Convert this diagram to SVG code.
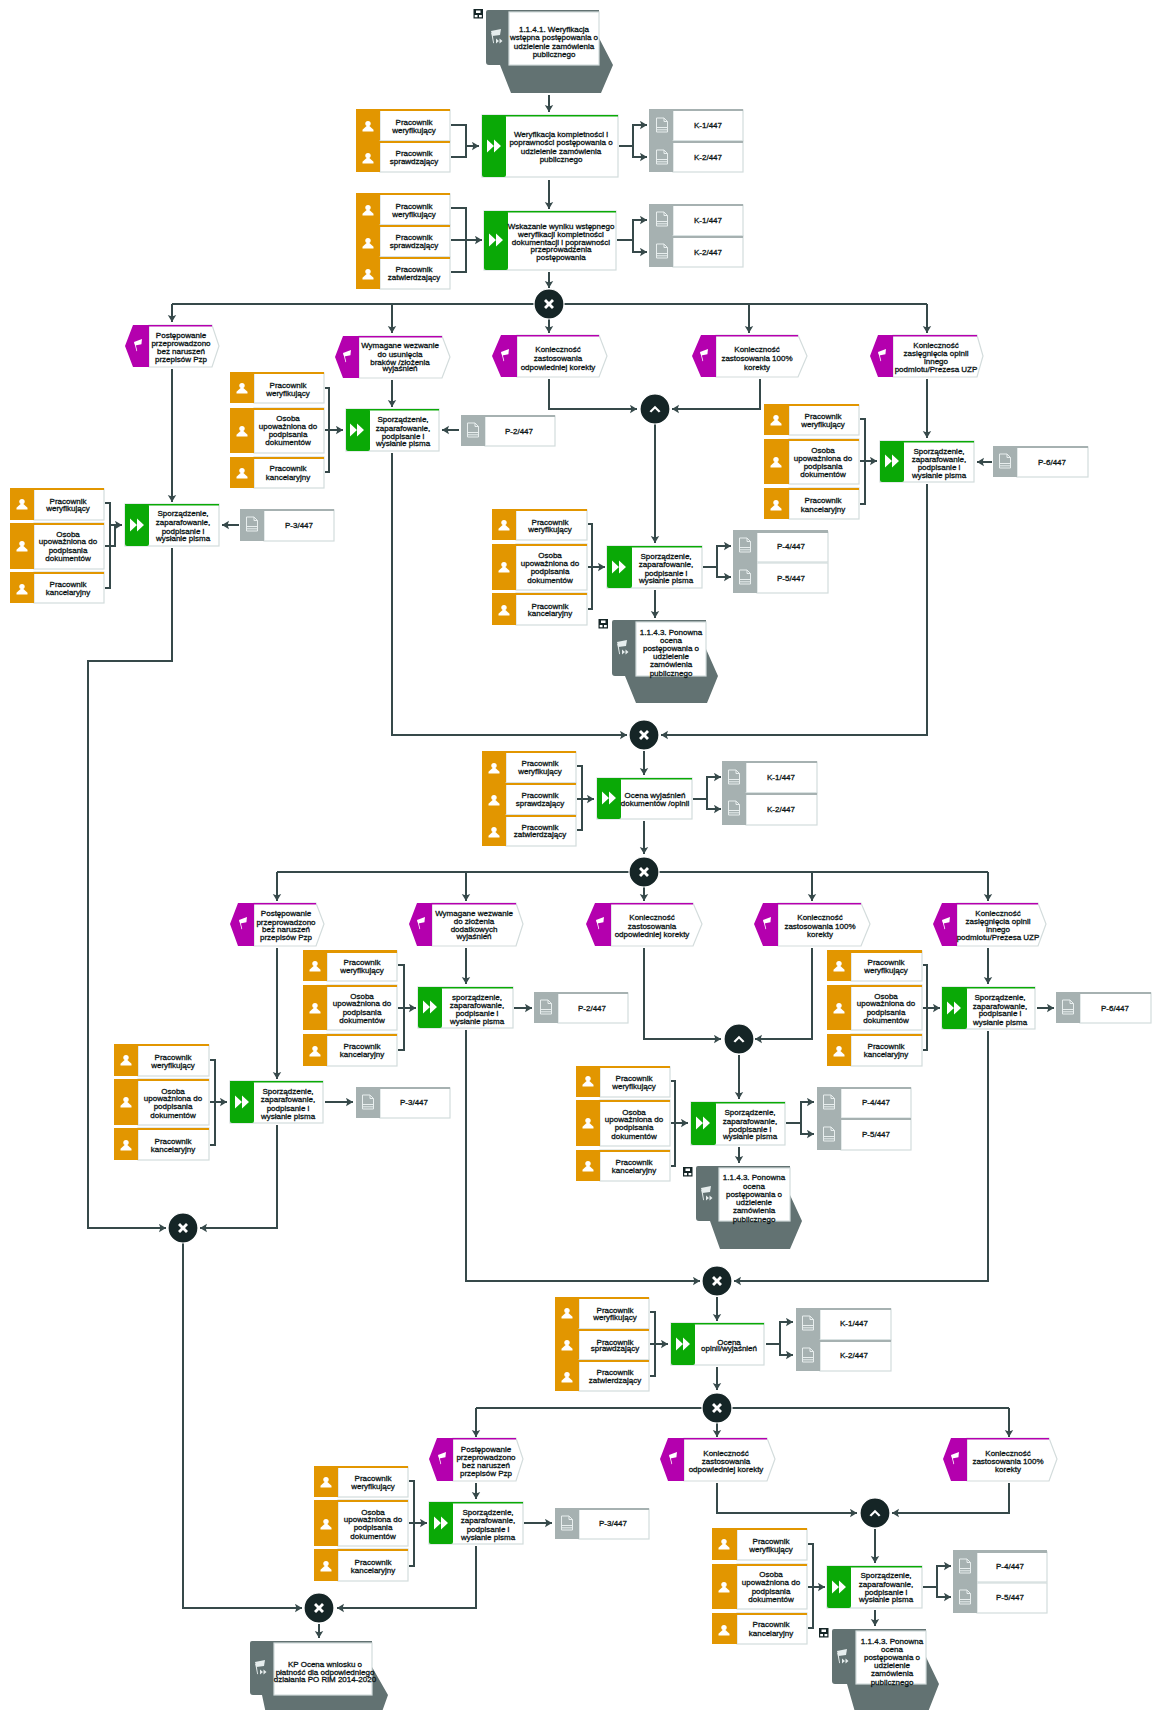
<svg xmlns="http://www.w3.org/2000/svg" width="1152" height="1710" viewBox="0 0 1152 1710">
<style>
.c{fill:none;stroke:#36494a;stroke-width:2}
.a{marker-end:url(#ah)}
.t{font-family:"Liberation Sans",Arial,sans-serif;font-size:8px;fill:#0a1414;text-anchor:middle;stroke:#0a1414;stroke-width:.3}
.w{fill:#fff;stroke:#d3dcdc;stroke-width:1.2}
.or{fill:#e29600}
.gr{fill:#0aa906}
.pu{fill:#b400ae}
.dc{fill:#a6b1b1}
.pi{fill:#627272}
.gw{fill:#152526;stroke:#fff;stroke-width:1.2}
</style>
<defs>
<marker id="ah" markerUnits="userSpaceOnUse" markerWidth="9" markerHeight="10" refX="7" refY="4.5" orient="auto"><path d="M0 .3L7 4.5L0 8.7L1.4 4.5Z" fill="#36494a"/></marker>
<g id="person"><circle cx="0" cy="-2.4" r="2.7" fill="#fff"/><path d="M-1.4 0L-5.5 3.8V5.5H5.5V3.8L1.4 0Z" fill="#fff"/></g>
<g id="doc" fill="none" stroke="#e8eeee" stroke-width="1"><path d="M-5.5-7H2L5.5-3.5V7H-5.5Z"/><path d="M2-7V-3.500H5.500M-5.5 2.5H5.500M-5.500 4.800H5.500"/></g>
<path id="ff" d="M-7-6.500L0 0L-7 6.500ZM0-6.500L7 0L0 6.500Z" fill="#fff"/>
<g id="flag" fill="#fff"><path d="M-4-3L4-6L3.400-.8L-2.800 .4Z"/><path d="M-2.800-2.500L-.8 6L-1.500 6.200L-3.700-2.500Z"/></g>
<g id="pflag" fill="#e6eded"><path d="M-6-6L4-8L3-2L-4.600-1Z"/><path d="M-4.600-4L-3 6L-3.800 6.200L-5.800-4Z"/><path d="M-1 1.500L2 4L-1 6.500ZM2.500 1.500L5.500 4L2.500 6.500Z"/></g>
<g id="mapi"><rect width="9.500" height="9.500" fill="#152526"/><path d="M2.500 1.500H7V4H2.500ZM1.200 6H4V8.200H1.200ZM5.500 6H8.300V8.200H5.500Z" fill="#fff"/></g>
<path id="xi" d="M-5-3L-3-5L0-2L3-5L5-3L2 0L5 3L3 5L0 2L-3 5L-5 3L-2 0Z" fill="#fff"/>
<path id="up" d="M-5.500 2.200L0-3.200L5.500 2.200L3.800 3.600L0-.2L-3.800 3.600Z" fill="#fff"/>
</defs>
<rect width="1152" height="1710" fill="#fff"/>
<g id="connectors">
<path class="c a" d="M549 95V112"/><path class="c" d="M451 125H466V157H451"/><path class="c a" d="M466 146H479"/><path class="c a" d="M619 146H633V125H647"/><path class="c a" d="M633 146V157H647"/>
<path class="c a" d="M549 180V209"/><path class="c" d="M451 208H466V272H451"/><path class="c a" d="M451 240H482"/><path class="c a" d="M617 240H633V220H647"/><path class="c a" d="M633 240V252H647"/><path class="c a" d="M549 272V288"/>
<path class="c" d="M172 304H927"/><path class="c a" d="M172 304V322"/><path class="c a" d="M392 304V333"/><path class="c a" d="M549 319V333"/><path class="c a" d="M749 304V333"/><path class="c a" d="M927 304V333"/>
<path class="c a" d="M172 369V502"/><path class="c a" d="M172 548V661H88V1228H166"/><path class="c" d="M105 503H110V588H105"/><path class="c" d="M105 546H115V525"/><path class="c a" d="M110 525H122"/><path class="c a" d="M239 525H222"/>
<path class="c a" d="M392 380V407"/><path class="c" d="M325 388H329V472H325"/><path class="c a" d="M325 430H343"/><path class="c a" d="M459 430H442"/><path class="c a" d="M392 453V735H627"/>
<path class="c a" d="M549 379V409H637"/><path class="c a" d="M760 379V409H672"/><path class="c a" d="M655 424V543"/><path class="c" d="M588 524H592V609H588"/><path class="c a" d="M588 567H605"/><path class="c a" d="M703 567H717V546H731"/><path class="c a" d="M717 567V577H731"/><path class="c a" d="M655 590V618"/>
<path class="c a" d="M927 379V438"/><path class="c" d="M860 419H865V504H860"/><path class="c a" d="M860 461H877"/><path class="c a" d="M992 462H977"/><path class="c a" d="M927 484V735H661"/>
<path class="c a" d="M644 751V775"/><path class="c" d="M577 766H582V830H577"/><path class="c a" d="M577 799H594"/><path class="c a" d="M693 799H707V777H721"/><path class="c a" d="M707 799V809H721"/><path class="c a" d="M644 821V854"/>
<path class="c" d="M277 872H988"/><path class="c a" d="M277 872V901"/><path class="c a" d="M466 872V901"/><path class="c a" d="M644 887V901"/><path class="c a" d="M812 872V901"/><path class="c a" d="M988 872V901"/>
<path class="c a" d="M277 948V1079"/><path class="c" d="M210 1060H215V1145H210"/><path class="c a" d="M210 1102H227"/><path class="c a" d="M325 1102H353"/><path class="c a" d="M277 1125V1228H200"/>
<path class="c a" d="M466 948V984"/><path class="c" d="M398 965H404V1050H398"/><path class="c a" d="M398 1008H416"/><path class="c a" d="M514 1008H532"/><path class="c a" d="M466 1030V1281H700"/>
<path class="c a" d="M644 948V1039H721"/><path class="c a" d="M812 948V1039H755"/><path class="c a" d="M739 1055V1099"/><path class="c" d="M671 1081H675V1166H671"/><path class="c a" d="M671 1123H688"/><path class="c a" d="M786 1123H801V1102H814"/><path class="c a" d="M801 1123V1134H814"/><path class="c a" d="M739 1147V1163"/>
<path class="c a" d="M988 948V984"/><path class="c" d="M923 965H927V1050H923"/><path class="c a" d="M923 1008H940"/><path class="c a" d="M1037 1008H1054"/><path class="c a" d="M988 1031V1281H734"/>
<path class="c a" d="M717 1297V1321"/><path class="c" d="M650 1312H655V1376H650"/><path class="c a" d="M650 1344H668"/><path class="c a" d="M766 1344H780V1322H793"/><path class="c a" d="M780 1344V1355H793"/><path class="c a" d="M717 1367V1390"/>
<path class="c" d="M476 1408H1009"/><path class="c a" d="M476 1408V1437"/><path class="c a" d="M717 1423V1437"/><path class="c a" d="M1009 1408V1437"/>
<path class="c a" d="M476 1483V1499"/><path class="c" d="M409 1481H414V1566H409"/><path class="c a" d="M409 1523H427"/><path class="c a" d="M524 1523H552"/><path class="c a" d="M476 1546V1608H337"/><path class="c a" d="M183 1243V1608H302"/><path class="c a" d="M319 1624V1638"/>
<path class="c a" d="M717 1483V1513H857"/><path class="c a" d="M1009 1483V1513H892"/><path class="c a" d="M875 1529V1563"/><path class="c" d="M808 1544H813V1628H808"/><path class="c a" d="M808 1587H825"/><path class="c a" d="M923 1587H937V1566H951"/><path class="c a" d="M937 1587V1597H951"/><path class="c a" d="M875 1610V1626"/>
</g>

<g id="pi1"><use href="#mapi" x="473.500" y="9"/><path class="pi" d="M486 12Q486 10 488 10H599V38L613 65L601 93H511L500 65H489Q486 65 486 62Z"/><use href="#pflag" x="497" y="37"/><rect class="w" x="509" y="12" width="90" height="53"/><text class="t"><tspan x="554" y="32">1.1.4.1. Weryfikacja</tspan><tspan x="554" y="40">wstępna postępowania o</tspan><tspan x="554" y="49">udzielenie zamówienia</tspan><tspan x="554" y="57">publicznego</tspan></text></g>

<g id="r1"><rect class="w" x="380" y="110" width="70" height="31"/><rect class="or" x="356" y="109" width="94" height="2"/><rect class="or" x="356" y="109" width="24" height="32"/><use href="#person" x="368" y="126"/><text class="t"><tspan x="414" y="125">Pracownik</tspan><tspan x="414" y="133">weryfikujący</tspan></text></g>
<g id="r2"><rect class="w" x="380" y="141" width="70" height="31"/><rect class="or" x="356" y="141" width="94" height="2"/><rect class="or" x="356" y="141" width="24" height="31"/><use href="#person" x="368" y="158"/><text class="t"><tspan x="414" y="156">Pracownik</tspan><tspan x="414" y="164">sprawdzający</tspan></text></g>
<g id="t1"><rect class="w" x="482" y="115" width="136" height="62"/><rect class="gr" x="482" y="115" width="136" height="1.500"/><rect class="gr" x="482" y="115" width="24" height="62" rx="2"/><use href="#ff" x="494" y="146"/><text class="t"><tspan x="561" y="137">Weryfikacja kompletności i</tspan><tspan x="561" y="145">poprawności postępowania o</tspan><tspan x="561" y="154">udzielenie zamówienia</tspan><tspan x="561" y="162">publicznego</tspan></text></g>
<g id="d1"><rect class="w" x="673" y="110" width="70" height="31"/><rect class="dc" x="649" y="109" width="94" height="2"/><rect class="dc" x="649" y="109" width="24" height="32"/><use href="#doc" x="662" y="125"/><text class="t"><tspan x="708" y="128">K-1/447</tspan></text></g>
<g id="d2"><rect class="w" x="673" y="141" width="70" height="31"/><rect class="dc" x="649" y="141" width="94" height="2"/><rect class="dc" x="649" y="141" width="24" height="31"/><use href="#doc" x="662" y="157"/><text class="t"><tspan x="708" y="160">K-2/447</tspan></text></g>

<g id="r3"><rect class="w" x="380" y="194" width="70" height="31"/><rect class="or" x="356" y="193" width="94" height="2"/><rect class="or" x="356" y="193" width="24" height="32"/><use href="#person" x="368" y="210"/><text class="t"><tspan x="414" y="209">Pracownik</tspan><tspan x="414" y="217">weryfikujący</tspan></text></g>
<g id="r4"><rect class="w" x="380" y="225" width="70" height="32"/><rect class="or" x="356" y="225" width="94" height="2"/><rect class="or" x="356" y="225" width="24" height="32"/><use href="#person" x="368" y="243"/><text class="t"><tspan x="414" y="240">Pracownik</tspan><tspan x="414" y="248">sprawdzający</tspan></text></g>
<g id="r5"><rect class="w" x="380" y="257" width="70" height="32"/><rect class="or" x="356" y="257" width="94" height="2"/><rect class="or" x="356" y="257" width="24" height="32"/><use href="#person" x="368" y="274"/><text class="t"><tspan x="414" y="272">Pracownik</tspan><tspan x="414" y="280">zatwierdzający</tspan></text></g>
<g id="t2"><rect class="w" x="484" y="211" width="132" height="59"/><rect class="gr" x="484" y="211" width="132" height="1.500"/><rect class="gr" x="484" y="211" width="24" height="59" rx="2"/><use href="#ff" x="496" y="240"/><text class="t"><tspan x="561" y="229">Wskazanie wyniku wstępnego</tspan><tspan x="561" y="237">weryfikacji kompletności</tspan><tspan x="561" y="245">dokumentacji i poprawności</tspan><tspan x="561" y="252">przeprowadzenia</tspan><tspan x="561" y="260">postępowania</tspan></text></g>
<g id="d3"><rect class="w" x="673" y="205" width="70" height="31"/><rect class="dc" x="649" y="204" width="94" height="2"/><rect class="dc" x="649" y="204" width="24" height="32"/><use href="#doc" x="662" y="219"/><text class="t"><tspan x="708" y="223">K-1/447</tspan></text></g>
<g id="d4"><rect class="w" x="673" y="236" width="70" height="31"/><rect class="dc" x="649" y="236" width="94" height="2"/><rect class="dc" x="649" y="236" width="24" height="31"/><use href="#doc" x="662" y="251"/><text class="t"><tspan x="708" y="255">K-2/447</tspan></text></g>
<g id="g1"><circle class="gw" cx="549" cy="304" r="15"/><use href="#xi" x="549" y="304"/></g>

<g id="e1"><polygon class="w" points="149,325 212,325 219,346 212,367 149,367"/><polygon class="pu" points="133,325 212,325 212,326.500 149,326.500 149,367 133,367 125,346"/><use href="#flag" x="138" y="345"/><text class="t"><tspan x="181" y="338">Postępowanie</tspan><tspan x="181" y="346">przeprowadzono</tspan><tspan x="181" y="354">bez naruszeń</tspan><tspan x="181" y="362">przepisów Pzp</tspan></text></g>
<g id="t3"><rect class="w" x="125" y="504" width="94" height="42"/><rect class="gr" x="125" y="504" width="94" height="1.500"/><rect class="gr" x="125" y="504" width="24" height="42" rx="2"/><use href="#ff" x="137" y="525"/><text class="t"><tspan x="183" y="516">Sporządzenie,</tspan><tspan x="183" y="525">zaparafowanie,</tspan><tspan x="183" y="534">podpisanie i</tspan><tspan x="183" y="541">wysłanie pisma</tspan></text></g>
<g id="d5"><rect class="w" x="264" y="510" width="70" height="31"/><rect class="dc" x="240" y="509" width="94" height="2"/><rect class="dc" x="240" y="509" width="24" height="32"/><use href="#doc" x="252" y="524"/><text class="t"><tspan x="299" y="528">P-3/447</tspan></text></g>
<g id="r6"><rect class="w" x="34" y="489" width="70" height="31"/><rect class="or" x="10" y="488" width="94" height="2"/><rect class="or" x="10" y="488" width="24" height="32"/><use href="#person" x="22" y="504"/><text class="t"><tspan x="68" y="504">Pracownik</tspan><tspan x="68" y="511">weryfikujący</tspan></text></g>
<g id="r7"><rect class="w" x="34" y="523" width="70" height="46"/><rect class="or" x="10" y="523" width="94" height="2"/><rect class="or" x="10" y="523" width="24" height="46"/><use href="#person" x="22" y="546"/><text class="t"><tspan x="68" y="537">Osoba</tspan><tspan x="68" y="544">upoważniona do</tspan><tspan x="68" y="553">podpisania</tspan><tspan x="68" y="561">dokumentów</tspan></text></g>
<g id="r8"><rect class="w" x="34" y="572" width="70" height="31"/><rect class="or" x="10" y="572" width="94" height="2"/><rect class="or" x="10" y="572" width="24" height="31"/><use href="#person" x="22" y="589"/><text class="t"><tspan x="68" y="587">Pracownik</tspan><tspan x="68" y="595">kancelaryjny</tspan></text></g>

<g id="e2"><polygon class="w" points="359,336 442,336 450,357 442,378 359,378"/><polygon class="pu" points="343,336 442,336 442,337.500 359,337.500 359,378 343,378 335,357"/><use href="#flag" x="347" y="356"/><text class="t"><tspan x="400" y="348">Wymagane wezwanie</tspan><tspan x="400" y="357">do usunięcia</tspan><tspan x="400" y="365">braków /złożenia</tspan><tspan x="400" y="371">wyjaśnień</tspan></text></g>
<g id="t4"><rect class="w" x="346" y="409" width="93" height="42"/><rect class="gr" x="346" y="409" width="93" height="1.500"/><rect class="gr" x="346" y="409" width="24" height="42" rx="2"/><use href="#ff" x="357" y="430"/><text class="t"><tspan x="403" y="422">Sporządzenie,</tspan><tspan x="403" y="431">zaparafowanie,</tspan><tspan x="403" y="439">podpisanie i</tspan><tspan x="403" y="446">wysłanie pisma</tspan></text></g>
<g id="d6"><rect class="w" x="485" y="416" width="70" height="30"/><rect class="dc" x="461" y="415" width="94" height="2"/><rect class="dc" x="461" y="415" width="24" height="31"/><use href="#doc" x="473" y="430"/><text class="t"><tspan x="519" y="434">P-2/447</tspan></text></g>
<g id="r9"><rect class="w" x="254" y="373" width="70" height="30"/><rect class="or" x="230" y="372" width="94" height="2"/><rect class="or" x="230" y="372" width="24" height="31"/><use href="#person" x="242" y="388"/><text class="t"><tspan x="288" y="388">Pracownik</tspan><tspan x="288" y="396">weryfikujący</tspan></text></g>
<g id="r10"><rect class="w" x="254" y="408" width="70" height="45"/><rect class="or" x="230" y="408" width="94" height="2"/><rect class="or" x="230" y="408" width="24" height="45"/><use href="#person" x="242" y="431"/><text class="t"><tspan x="288" y="421">Osoba</tspan><tspan x="288" y="429">upoważniona do</tspan><tspan x="288" y="437">podpisania</tspan><tspan x="288" y="445">dokumentów</tspan></text></g>
<g id="r11"><rect class="w" x="254" y="457" width="70" height="31"/><rect class="or" x="230" y="457" width="94" height="2"/><rect class="or" x="230" y="457" width="24" height="31"/><use href="#person" x="242" y="473"/><text class="t"><tspan x="288" y="471">Pracownik</tspan><tspan x="288" y="480">kancelaryjny</tspan></text></g>

<g id="e3"><polygon class="w" points="517,335 599,335 607,356 599,377 517,377"/><polygon class="pu" points="501,335 599,335 599,336.500 517,336.500 517,377 501,377 492,356"/><use href="#flag" x="505" y="355"/><text class="t"><tspan x="558" y="352">Konieczność</tspan><tspan x="558" y="361">zastosowania</tspan><tspan x="558" y="370">odpowiedniej korekty</tspan></text></g>
<g id="e4"><polygon class="w" points="716,335 798,335 807,356 798,377 716,377"/><polygon class="pu" points="701,335 798,335 798,336.500 716,336.500 716,377 701,377 692,356"/><use href="#flag" x="704" y="355"/><text class="t"><tspan x="757" y="352">Konieczność</tspan><tspan x="757" y="361">zastosowania 100%</tspan><tspan x="757" y="370">korekty</tspan></text></g>
<g id="g2"><circle class="gw" cx="655" cy="409" r="15"/><use href="#up" x="655" y="409"/></g>
<g id="t5"><rect class="w" x="607" y="546" width="95" height="42"/><rect class="gr" x="607" y="546" width="95" height="1.500"/><rect class="gr" x="607" y="546" width="25" height="42" rx="2"/><use href="#ff" x="619" y="567"/><text class="t"><tspan x="666" y="559">Sporządzenie,</tspan><tspan x="666" y="567">zaparafowanie,</tspan><tspan x="666" y="576">podpisanie i</tspan><tspan x="666" y="583">wysłanie pisma</tspan></text></g>
<g id="r12"><rect class="w" x="516" y="510" width="71" height="30"/><rect class="or" x="492" y="509" width="95" height="2"/><rect class="or" x="492" y="509" width="24" height="31"/><use href="#person" x="504" y="525"/><text class="t"><tspan x="550" y="525">Pracownik</tspan><tspan x="550" y="532">weryfikujący</tspan></text></g>
<g id="r13"><rect class="w" x="516" y="544" width="71" height="46"/><rect class="or" x="492" y="544" width="95" height="2"/><rect class="or" x="492" y="544" width="24" height="46"/><use href="#person" x="504" y="567"/><text class="t"><tspan x="550" y="558">Osoba</tspan><tspan x="550" y="566">upoważniona do</tspan><tspan x="550" y="574">podpisania</tspan><tspan x="550" y="583">dokumentów</tspan></text></g>
<g id="r14"><rect class="w" x="516" y="593" width="71" height="32"/><rect class="or" x="492" y="593" width="95" height="2"/><rect class="or" x="492" y="593" width="24" height="32"/><use href="#person" x="504" y="610"/><text class="t"><tspan x="550" y="609">Pracownik</tspan><tspan x="550" y="616">kancelaryjny</tspan></text></g>
<g id="d7"><rect class="w" x="757" y="532" width="71" height="30"/><rect class="dc" x="733" y="530" width="95" height="3"/><rect class="dc" x="733" y="530" width="24" height="32"/><use href="#doc" x="745" y="545"/><text class="t"><tspan x="791" y="549">P-4/447</tspan></text></g>
<g id="d8"><rect class="w" x="757" y="563" width="71" height="30"/><rect class="dc" x="733" y="562" width="24" height="31"/><use href="#doc" x="745" y="577"/><text class="t"><tspan x="791" y="581">P-5/447</tspan></text></g>
<g id="pi2"><use href="#mapi" x="598.500" y="619"/><path class="pi" d="M612 622Q612 620 614 620H706V649L718 676L707 703H636L625 676H615Q612 676 612 673Z"/><use href="#pflag" x="623" y="648"/><rect class="w" x="636" y="622" width="70" height="54"/><text class="t"><tspan x="671" y="635">1.1.4.3. Ponowna</tspan><tspan x="671" y="643">ocena</tspan><tspan x="671" y="651">postępowania o</tspan><tspan x="671" y="659">udzielenie</tspan><tspan x="671" y="667">zamówienia</tspan><tspan x="671" y="676">publicznego</tspan></text></g>

<g id="e5"><polygon class="w" points="893,335 977,335 983,356 977,377 893,377"/><polygon class="pu" points="878,335 977,335 977,336.500 893,336.500 893,377 878,377 870,356"/><use href="#flag" x="882" y="355"/><text class="t"><tspan x="936" y="348">Konieczność</tspan><tspan x="936" y="356">zasięgnięcia opinii</tspan><tspan x="936" y="364">innego</tspan><tspan x="936" y="372">podmiotu/Prezesa UZP</tspan></text></g>
<g id="t6"><rect class="w" x="880" y="441" width="94" height="41"/><rect class="gr" x="880" y="441" width="94" height="1.500"/><rect class="gr" x="880" y="441" width="24" height="41" rx="2"/><use href="#ff" x="892" y="461"/><text class="t"><tspan x="939" y="454">Sporządzenie,</tspan><tspan x="939" y="462">zaparafowanie,</tspan><tspan x="939" y="470">podpisanie i</tspan><tspan x="939" y="478">wysłanie pisma</tspan></text></g>
<g id="d9"><rect class="w" x="1017" y="447" width="71" height="30"/><rect class="dc" x="993" y="446" width="95" height="2"/><rect class="dc" x="993" y="446" width="24" height="31"/><use href="#doc" x="1005" y="461"/><text class="t"><tspan x="1052" y="465">P-6/447</tspan></text></g>
<g id="r15"><rect class="w" x="789" y="405" width="70" height="30"/><rect class="or" x="764" y="404" width="95" height="2"/><rect class="or" x="764" y="404" width="25" height="31"/><use href="#person" x="776" y="420"/><text class="t"><tspan x="823" y="419">Pracownik</tspan><tspan x="823" y="427">weryfikujący</tspan></text></g>
<g id="r16"><rect class="w" x="789" y="439" width="70" height="45"/><rect class="or" x="764" y="439" width="95" height="2"/><rect class="or" x="764" y="439" width="25" height="45"/><use href="#person" x="776" y="462"/><text class="t"><tspan x="823" y="453">Osoba</tspan><tspan x="823" y="461">upoważniona do</tspan><tspan x="823" y="469">podpisania</tspan><tspan x="823" y="477">dokumentów</tspan></text></g>
<g id="r17"><rect class="w" x="789" y="488" width="70" height="31"/><rect class="or" x="764" y="488" width="95" height="2"/><rect class="or" x="764" y="488" width="25" height="31"/><use href="#person" x="776" y="505"/><text class="t"><tspan x="823" y="503">Pracownik</tspan><tspan x="823" y="512">kancelaryjny</tspan></text></g>

<g id="g3"><circle class="gw" cx="644" cy="735" r="15"/><use href="#xi" x="644" y="735"/></g>
<g id="r18"><rect class="w" x="506" y="752" width="70" height="31"/><rect class="or" x="482" y="751" width="94" height="2"/><rect class="or" x="482" y="751" width="24" height="32"/><use href="#person" x="494" y="768"/><text class="t"><tspan x="540" y="766">Pracownik</tspan><tspan x="540" y="774">weryfikujący</tspan></text></g>
<g id="r19"><rect class="w" x="506" y="783" width="70" height="32"/><rect class="or" x="482" y="783" width="94" height="2"/><rect class="or" x="482" y="783" width="24" height="32"/><use href="#person" x="494" y="800"/><text class="t"><tspan x="540" y="798">Pracownik</tspan><tspan x="540" y="806">sprawdzający</tspan></text></g>
<g id="r20"><rect class="w" x="506" y="815" width="70" height="31"/><rect class="or" x="482" y="815" width="94" height="2"/><rect class="or" x="482" y="815" width="24" height="31"/><use href="#person" x="494" y="832"/><text class="t"><tspan x="540" y="830">Pracownik</tspan><tspan x="540" y="837">zatwierdzający</tspan></text></g>
<g id="t7"><rect class="w" x="597" y="778" width="95" height="41"/><rect class="gr" x="597" y="778" width="95" height="1.500"/><rect class="gr" x="597" y="778" width="24" height="41" rx="2"/><use href="#ff" x="609" y="798"/><text class="t"><tspan x="655" y="798">Ocena wyjaśnień</tspan><tspan x="655" y="806">dokumentów /opinii</tspan></text></g>
<g id="d10"><rect class="w" x="746" y="762" width="71" height="31"/><rect class="dc" x="722" y="761" width="95" height="2"/><rect class="dc" x="722" y="761" width="24" height="32"/><use href="#doc" x="734" y="777"/><text class="t"><tspan x="781" y="780">K-1/447</tspan></text></g>
<g id="d11"><rect class="w" x="746" y="793" width="71" height="32"/><rect class="dc" x="722" y="793" width="95" height="2"/><rect class="dc" x="722" y="793" width="24" height="32"/><use href="#doc" x="734" y="808"/><text class="t"><tspan x="781" y="812">K-2/447</tspan></text></g>
<g id="g4"><circle class="gw" cx="644" cy="872" r="15"/><use href="#xi" x="644" y="872"/></g>

<g id="e6"><polygon class="w" points="254,903 316,903 324,924 316,946 254,946"/><polygon class="pu" points="238,903 316,903 316,904.500 254,904.500 254,946 238,946 230,924"/><use href="#flag" x="243" y="923"/><text class="t"><tspan x="286" y="916">Postępowanie</tspan><tspan x="286" y="925">przeprowadzono</tspan><tspan x="286" y="932">bez naruszeń</tspan><tspan x="286" y="940">przepisów Pzp</tspan></text></g>
<g id="t8"><rect class="w" x="230" y="1081" width="93" height="42"/><rect class="gr" x="230" y="1081" width="93" height="1.500"/><rect class="gr" x="230" y="1081" width="24" height="42" rx="2"/><use href="#ff" x="242" y="1102"/><text class="t"><tspan x="288" y="1094">Sporządzenie,</tspan><tspan x="288" y="1102">zaparafowanie,</tspan><tspan x="288" y="1111">podpisanie i</tspan><tspan x="288" y="1119">wysłanie pisma</tspan></text></g>
<g id="d12"><rect class="w" x="380" y="1088" width="70" height="30"/><rect class="dc" x="356" y="1087" width="94" height="2"/><rect class="dc" x="356" y="1087" width="24" height="31"/><use href="#doc" x="368" y="1102"/><text class="t"><tspan x="414" y="1105">P-3/447</tspan></text></g>
<g id="r21"><rect class="w" x="138" y="1045" width="71" height="31"/><rect class="or" x="114" y="1044" width="95" height="2"/><rect class="or" x="114" y="1044" width="24" height="32"/><use href="#person" x="126" y="1060"/><text class="t"><tspan x="173" y="1060">Pracownik</tspan><tspan x="173" y="1068">weryfikujący</tspan></text></g>
<g id="r22"><rect class="w" x="138" y="1079" width="71" height="46"/><rect class="or" x="114" y="1079" width="95" height="2"/><rect class="or" x="114" y="1079" width="24" height="46"/><use href="#person" x="126" y="1102"/><text class="t"><tspan x="173" y="1094">Osoba</tspan><tspan x="173" y="1101">upoważniona do</tspan><tspan x="173" y="1109">podpisania</tspan><tspan x="173" y="1118">dokumentów</tspan></text></g>
<g id="r23"><rect class="w" x="138" y="1128" width="71" height="32"/><rect class="or" x="114" y="1128" width="95" height="2"/><rect class="or" x="114" y="1128" width="24" height="32"/><use href="#person" x="126" y="1145"/><text class="t"><tspan x="173" y="1144">Pracownik</tspan><tspan x="173" y="1152">kancelaryjny</tspan></text></g>

<g id="e7"><polygon class="w" points="432,903 516,903 523,924 516,946 432,946"/><polygon class="pu" points="417,903 516,903 516,904.500 432,904.500 432,946 417,946 409,924"/><use href="#flag" x="421" y="923"/><text class="t"><tspan x="474" y="916">Wymagane wezwanie</tspan><tspan x="474" y="924">do złożenia</tspan><tspan x="474" y="932">dodatkowych</tspan><tspan x="474" y="939">wyjaśnień</tspan></text></g>
<g id="t9"><rect class="w" x="418" y="987" width="95" height="41"/><rect class="gr" x="418" y="987" width="95" height="1.500"/><rect class="gr" x="418" y="987" width="24" height="41" rx="2"/><use href="#ff" x="430" y="1007"/><text class="t"><tspan x="477" y="1000">sporządzenie,</tspan><tspan x="477" y="1008">zaparafowanie,</tspan><tspan x="477" y="1016">podpisanie i</tspan><tspan x="477" y="1024">wysłanie pisma</tspan></text></g>
<g id="d13"><rect class="w" x="558" y="993" width="70" height="30"/><rect class="dc" x="534" y="992" width="94" height="2"/><rect class="dc" x="534" y="992" width="24" height="31"/><use href="#doc" x="546" y="1007"/><text class="t"><tspan x="592" y="1011">P-2/447</tspan></text></g>
<g id="r24"><rect class="w" x="327" y="951" width="70" height="30"/><rect class="or" x="303" y="950" width="94" height="3"/><rect class="or" x="303" y="950" width="24" height="31"/><use href="#person" x="315" y="966"/><text class="t"><tspan x="362" y="965">Pracownik</tspan><tspan x="362" y="973">weryfikujący</tspan></text></g>
<g id="r25"><rect class="w" x="327" y="985" width="70" height="45"/><rect class="or" x="303" y="985" width="94" height="2"/><rect class="or" x="303" y="985" width="24" height="45"/><use href="#person" x="315" y="1008"/><text class="t"><tspan x="362" y="999">Osoba</tspan><tspan x="362" y="1006">upoważniona do</tspan><tspan x="362" y="1015">podpisania</tspan><tspan x="362" y="1023">dokumentów</tspan></text></g>
<g id="r26"><rect class="w" x="327" y="1034" width="70" height="32"/><rect class="or" x="303" y="1034" width="94" height="2"/><rect class="or" x="303" y="1034" width="24" height="32"/><use href="#person" x="315" y="1051"/><text class="t"><tspan x="362" y="1049">Pracownik</tspan><tspan x="362" y="1057">kancelaryjny</tspan></text></g>

<g id="e8"><polygon class="w" points="611,903 693,903 702,924 693,946 611,946"/><polygon class="pu" points="595,903 693,903 693,904.500 611,904.500 611,946 595,946 586,924"/><use href="#flag" x="600" y="923"/><text class="t"><tspan x="652" y="920">Konieczność</tspan><tspan x="652" y="929">zastosowania</tspan><tspan x="652" y="937">odpowiedniej korekty</tspan></text></g>
<g id="e9"><polygon class="w" points="778,903 861,903 870,924 861,946 778,946"/><polygon class="pu" points="763,903 861,903 861,904.500 778,904.500 778,946 763,946 754,924"/><use href="#flag" x="767" y="923"/><text class="t"><tspan x="820" y="920">Konieczność</tspan><tspan x="820" y="929">zastosowania 100%</tspan><tspan x="820" y="937">korekty</tspan></text></g>
<g id="g5"><circle class="gw" cx="739" cy="1039" r="15"/><use href="#up" x="739" y="1039"/></g>
<g id="t10"><rect class="w" x="691" y="1102" width="94" height="43"/><rect class="gr" x="691" y="1102" width="94" height="1.500"/><rect class="gr" x="691" y="1102" width="25" height="43" rx="2"/><use href="#ff" x="703" y="1123"/><text class="t"><tspan x="750" y="1115">Sporządzenie,</tspan><tspan x="750" y="1124">zaparafowanie,</tspan><tspan x="750" y="1132">podpisanie i</tspan><tspan x="750" y="1139">wysłanie pisma</tspan></text></g>
<g id="r27"><rect class="w" x="600" y="1067" width="70" height="30"/><rect class="or" x="576" y="1066" width="94" height="2"/><rect class="or" x="576" y="1066" width="24" height="31"/><use href="#person" x="588" y="1081"/><text class="t"><tspan x="634" y="1081">Pracownik</tspan><tspan x="634" y="1089">weryfikujący</tspan></text></g>
<g id="r28"><rect class="w" x="600" y="1100" width="70" height="46"/><rect class="or" x="576" y="1100" width="94" height="2"/><rect class="or" x="576" y="1100" width="24" height="46"/><use href="#person" x="588" y="1123"/><text class="t"><tspan x="634" y="1115">Osoba</tspan><tspan x="634" y="1122">upoważniona do</tspan><tspan x="634" y="1130">podpisania</tspan><tspan x="634" y="1139">dokumentów</tspan></text></g>
<g id="r29"><rect class="w" x="600" y="1150" width="70" height="31"/><rect class="or" x="576" y="1150" width="94" height="2"/><rect class="or" x="576" y="1150" width="24" height="31"/><use href="#person" x="588" y="1166"/><text class="t"><tspan x="634" y="1165">Pracownik</tspan><tspan x="634" y="1173">kancelaryjny</tspan></text></g>
<g id="d14"><rect class="w" x="841" y="1088" width="70" height="30"/><rect class="dc" x="817" y="1087" width="94" height="2"/><rect class="dc" x="817" y="1087" width="24" height="31"/><use href="#doc" x="829" y="1102"/><text class="t"><tspan x="876" y="1105">P-4/447</tspan></text></g>
<g id="d15"><rect class="w" x="841" y="1119" width="70" height="31"/><rect class="dc" x="817" y="1118" width="94" height="2"/><rect class="dc" x="817" y="1118" width="24" height="32"/><use href="#doc" x="829" y="1134"/><text class="t"><tspan x="876" y="1137">P-5/447</tspan></text></g>
<g id="pi3"><use href="#mapi" x="683" y="1167"/><path class="pi" d="M696 1168Q696 1166 698 1166H790V1195L802 1221L790 1249H720L710 1221H699Q696 1221 696 1218Z"/><use href="#pflag" x="707" y="1194"/><rect class="w" x="719" y="1168" width="71" height="53"/><text class="t"><tspan x="754" y="1180">1.1.4.3. Ponowna</tspan><tspan x="754" y="1189">ocena</tspan><tspan x="754" y="1197">postępowania o</tspan><tspan x="754" y="1205">udzielenie</tspan><tspan x="754" y="1213">zamówienia</tspan><tspan x="754" y="1222">publicznego</tspan></text></g>

<g id="e10"><polygon class="w" points="957,903 1038,903 1046,924 1038,946 957,946"/><polygon class="pu" points="942,903 1038,903 1038,904.500 957,904.500 957,946 942,946 933,924"/><use href="#flag" x="946" y="923"/><text class="t"><tspan x="998" y="916">Konieczność</tspan><tspan x="998" y="924">zasięgnięcia opinii</tspan><tspan x="998" y="932">innego</tspan><tspan x="998" y="940">podmiotu/Prezesa UZP</tspan></text></g>
<g id="t11"><rect class="w" x="942" y="987" width="93" height="42"/><rect class="gr" x="942" y="987" width="93" height="1.500"/><rect class="gr" x="942" y="987" width="25" height="42" rx="2"/><use href="#ff" x="954" y="1008"/><text class="t"><tspan x="1000" y="1000">Sporządzenie,</tspan><tspan x="1000" y="1009">zaparafowanie,</tspan><tspan x="1000" y="1016">podpisanie i</tspan><tspan x="1000" y="1025">wysłanie pisma</tspan></text></g>
<g id="d16"><rect class="w" x="1080" y="993" width="71" height="30"/><rect class="dc" x="1056" y="992" width="95" height="2"/><rect class="dc" x="1056" y="992" width="24" height="31"/><use href="#doc" x="1068" y="1007"/><text class="t"><tspan x="1115" y="1011">P-6/447</tspan></text></g>
<g id="r30"><rect class="w" x="851" y="951" width="71" height="30"/><rect class="or" x="827" y="950" width="95" height="3"/><rect class="or" x="827" y="950" width="24" height="31"/><use href="#person" x="839" y="966"/><text class="t"><tspan x="886" y="965">Pracownik</tspan><tspan x="886" y="973">weryfikujący</tspan></text></g>
<g id="r31"><rect class="w" x="851" y="985" width="71" height="45"/><rect class="or" x="827" y="985" width="95" height="2"/><rect class="or" x="827" y="985" width="24" height="45"/><use href="#person" x="839" y="1008"/><text class="t"><tspan x="886" y="999">Osoba</tspan><tspan x="886" y="1006">upoważniona do</tspan><tspan x="886" y="1015">podpisania</tspan><tspan x="886" y="1023">dokumentów</tspan></text></g>
<g id="r32"><rect class="w" x="851" y="1034" width="71" height="32"/><rect class="or" x="827" y="1034" width="95" height="2"/><rect class="or" x="827" y="1034" width="24" height="32"/><use href="#person" x="839" y="1051"/><text class="t"><tspan x="886" y="1049">Pracownik</tspan><tspan x="886" y="1057">kancelaryjny</tspan></text></g>

<g id="g6"><circle class="gw" cx="183" cy="1228" r="15"/><use href="#xi" x="183" y="1228"/></g>
<g id="g7"><circle class="gw" cx="717" cy="1281" r="15"/><use href="#xi" x="717" y="1281"/></g>
<g id="r33"><rect class="w" x="579" y="1298" width="70" height="31"/><rect class="or" x="555" y="1297" width="94" height="2"/><rect class="or" x="555" y="1297" width="24" height="32"/><use href="#person" x="567" y="1313"/><text class="t"><tspan x="615" y="1313">Pracownik</tspan><tspan x="615" y="1320">weryfikujący</tspan></text></g>
<g id="r34"><rect class="w" x="579" y="1329" width="70" height="31"/><rect class="or" x="555" y="1329" width="94" height="2"/><rect class="or" x="555" y="1329" width="24" height="31"/><use href="#person" x="567" y="1345"/><text class="t"><tspan x="615" y="1345">Pracownik</tspan><tspan x="615" y="1351">sprawdzający</tspan></text></g>
<g id="r35"><rect class="w" x="579" y="1360" width="70" height="31"/><rect class="or" x="555" y="1360" width="94" height="2"/><rect class="or" x="555" y="1360" width="24" height="31"/><use href="#person" x="567" y="1377"/><text class="t"><tspan x="615" y="1375">Pracownik</tspan><tspan x="615" y="1383">zatwierdzający</tspan></text></g>
<g id="t12"><rect class="w" x="671" y="1323" width="93" height="42"/><rect class="gr" x="671" y="1323" width="93" height="1.500"/><rect class="gr" x="671" y="1323" width="24" height="42" rx="2"/><use href="#ff" x="683" y="1344"/><text class="t"><tspan x="729" y="1345">Ocena</tspan><tspan x="729" y="1351">opinii/wyjaśnień</tspan></text></g>
<g id="d17"><rect class="w" x="820" y="1309" width="71" height="31"/><rect class="dc" x="796" y="1308" width="95" height="2"/><rect class="dc" x="796" y="1308" width="24" height="32"/><use href="#doc" x="808" y="1323"/><text class="t"><tspan x="854" y="1326">K-1/447</tspan></text></g>
<g id="d18"><rect class="w" x="820" y="1340" width="71" height="31"/><rect class="dc" x="796" y="1340" width="95" height="2"/><rect class="dc" x="796" y="1340" width="24" height="31"/><use href="#doc" x="808" y="1355"/><text class="t"><tspan x="854" y="1358">K-2/447</tspan></text></g>
<g id="g8"><circle class="gw" cx="717" cy="1408" r="15"/><use href="#xi" x="717" y="1408"/></g>

<g id="e11"><polygon class="w" points="453,1438 516,1438 523,1459 516,1481 453,1481"/><polygon class="pu" points="437,1438 516,1438 516,1439.500 453,1439.500 453,1481 437,1481 429,1459"/><use href="#flag" x="442" y="1458"/><text class="t"><tspan x="486" y="1452">Postępowanie</tspan><tspan x="486" y="1460">przeprowadzono</tspan><tspan x="486" y="1468">bez naruszeń</tspan><tspan x="486" y="1476">przepisów Pzp</tspan></text></g>
<g id="t13"><rect class="w" x="429" y="1502" width="94" height="42"/><rect class="gr" x="429" y="1502" width="94" height="1.500"/><rect class="gr" x="429" y="1502" width="24" height="42" rx="2"/><use href="#ff" x="441" y="1523"/><text class="t"><tspan x="488" y="1515">Sporządzenie,</tspan><tspan x="488" y="1523">zaparafowanie,</tspan><tspan x="488" y="1532">podpisanie i</tspan><tspan x="488" y="1540">wysłanie pisma</tspan></text></g>
<g id="d19"><rect class="w" x="579" y="1509" width="70" height="30"/><rect class="dc" x="555" y="1508" width="94" height="2"/><rect class="dc" x="555" y="1508" width="24" height="31"/><use href="#doc" x="567" y="1523"/><text class="t"><tspan x="613" y="1526">P-3/447</tspan></text></g>
<g id="r36"><rect class="w" x="338" y="1467" width="70" height="30"/><rect class="or" x="314" y="1466" width="94" height="2"/><rect class="or" x="314" y="1466" width="24" height="31"/><use href="#person" x="326" y="1482"/><text class="t"><tspan x="373" y="1481">Pracownik</tspan><tspan x="373" y="1489">weryfikujący</tspan></text></g>
<g id="r37"><rect class="w" x="338" y="1500" width="70" height="46"/><rect class="or" x="314" y="1500" width="94" height="2"/><rect class="or" x="314" y="1500" width="24" height="46"/><use href="#person" x="326" y="1524"/><text class="t"><tspan x="373" y="1515">Osoba</tspan><tspan x="373" y="1522">upoważniona do</tspan><tspan x="373" y="1530">podpisania</tspan><tspan x="373" y="1539">dokumentów</tspan></text></g>
<g id="r38"><rect class="w" x="338" y="1549" width="70" height="32"/><rect class="or" x="314" y="1549" width="94" height="2"/><rect class="or" x="314" y="1549" width="24" height="32"/><use href="#person" x="326" y="1566"/><text class="t"><tspan x="373" y="1565">Pracownik</tspan><tspan x="373" y="1573">kancelaryjny</tspan></text></g>
<g id="g9"><circle class="gw" cx="319" cy="1608" r="15"/><use href="#xi" x="319" y="1608"/></g>
<g id="pi4"><path class="pi" d="M250 1643Q250 1641 252 1641H372V1667L388 1695L378 1723H268L262 1695H253Q250 1695 250 1692Z"/><use href="#pflag" x="261" y="1668"/><rect class="w" x="274" y="1643" width="98" height="52"/><text class="t"><tspan x="325" y="1667">KP Ocena wniosku o</tspan><tspan x="325" y="1675">płatność dla odpowiedniego</tspan><tspan x="325" y="1682">działania PO RiM 2014-2020</tspan></text></g>

<g id="e12"><polygon class="w" points="684,1438 767,1438 775,1459 767,1481 684,1481"/><polygon class="pu" points="668,1438 767,1438 767,1439.500 684,1439.500 684,1481 668,1481 660,1459"/><use href="#flag" x="673" y="1458"/><text class="t"><tspan x="726" y="1456">Konieczność</tspan><tspan x="726" y="1464">zastosowania</tspan><tspan x="726" y="1472">odpowiedniej korekty</tspan></text></g>
<g id="e13"><polygon class="w" points="967,1438 1049,1438 1057,1459 1049,1481 967,1481"/><polygon class="pu" points="951,1438 1049,1438 1049,1439.500 967,1439.500 967,1481 951,1481 943,1459"/><use href="#flag" x="955" y="1458"/><text class="t"><tspan x="1008" y="1456">Konieczność</tspan><tspan x="1008" y="1464">zastosowania 100%</tspan><tspan x="1008" y="1472">korekty</tspan></text></g>
<g id="g10"><circle class="gw" cx="875" cy="1513" r="15"/><use href="#up" x="875" y="1513"/></g>
<g id="t14"><rect class="w" x="827" y="1566" width="95" height="42"/><rect class="gr" x="827" y="1566" width="95" height="1.500"/><rect class="gr" x="827" y="1566" width="24" height="42" rx="2"/><use href="#ff" x="839" y="1587"/><text class="t"><tspan x="886" y="1578">Sporządzenie,</tspan><tspan x="886" y="1587">zaparafowanie,</tspan><tspan x="886" y="1595">podpisanie i</tspan><tspan x="886" y="1602">wysłanie pisma</tspan></text></g>
<g id="r39"><rect class="w" x="737" y="1529" width="70" height="31"/><rect class="or" x="712" y="1528" width="95" height="2"/><rect class="or" x="712" y="1528" width="25" height="32"/><use href="#person" x="724" y="1544"/><text class="t"><tspan x="771" y="1544">Pracownik</tspan><tspan x="771" y="1552">weryfikujący</tspan></text></g>
<g id="r40"><rect class="w" x="737" y="1564" width="70" height="45"/><rect class="or" x="712" y="1564" width="95" height="2"/><rect class="or" x="712" y="1564" width="25" height="45"/><use href="#person" x="724" y="1587"/><text class="t"><tspan x="771" y="1577">Osoba</tspan><tspan x="771" y="1585">upoważniona do</tspan><tspan x="771" y="1594">podpisania</tspan><tspan x="771" y="1602">dokumentów</tspan></text></g>
<g id="r41"><rect class="w" x="737" y="1613" width="70" height="31"/><rect class="or" x="712" y="1613" width="95" height="2"/><rect class="or" x="712" y="1613" width="25" height="31"/><use href="#person" x="724" y="1630"/><text class="t"><tspan x="771" y="1627">Pracownik</tspan><tspan x="771" y="1636">kancelaryjny</tspan></text></g>
<g id="d20"><rect class="w" x="977" y="1552" width="70" height="30"/><rect class="dc" x="953" y="1550" width="94" height="3"/><rect class="dc" x="953" y="1550" width="24" height="32"/><use href="#doc" x="965" y="1566"/><text class="t"><tspan x="1010" y="1569">P-4/447</tspan></text></g>
<g id="d21"><rect class="w" x="977" y="1583" width="70" height="30"/><rect class="dc" x="953" y="1582" width="24" height="31"/><use href="#doc" x="965" y="1597"/><text class="t"><tspan x="1010" y="1600">P-5/447</tspan></text></g>
<g id="pi5"><use href="#mapi" x="819" y="1628"/><path class="pi" d="M832 1631Q832 1629 834 1629H926V1657L939 1684L928 1712H855L847 1684H835Q832 1684 832 1681Z"/><use href="#pflag" x="843" y="1657"/><rect class="w" x="856" y="1631" width="70" height="53"/><text class="t"><tspan x="892" y="1644">1.1.4.3. Ponowna</tspan><tspan x="892" y="1652">ocena</tspan><tspan x="892" y="1660">postępowania o</tspan><tspan x="892" y="1668">udzielenie</tspan><tspan x="892" y="1676">zamówienia</tspan><tspan x="892" y="1685">publicznego</tspan></text></g>
</svg>
